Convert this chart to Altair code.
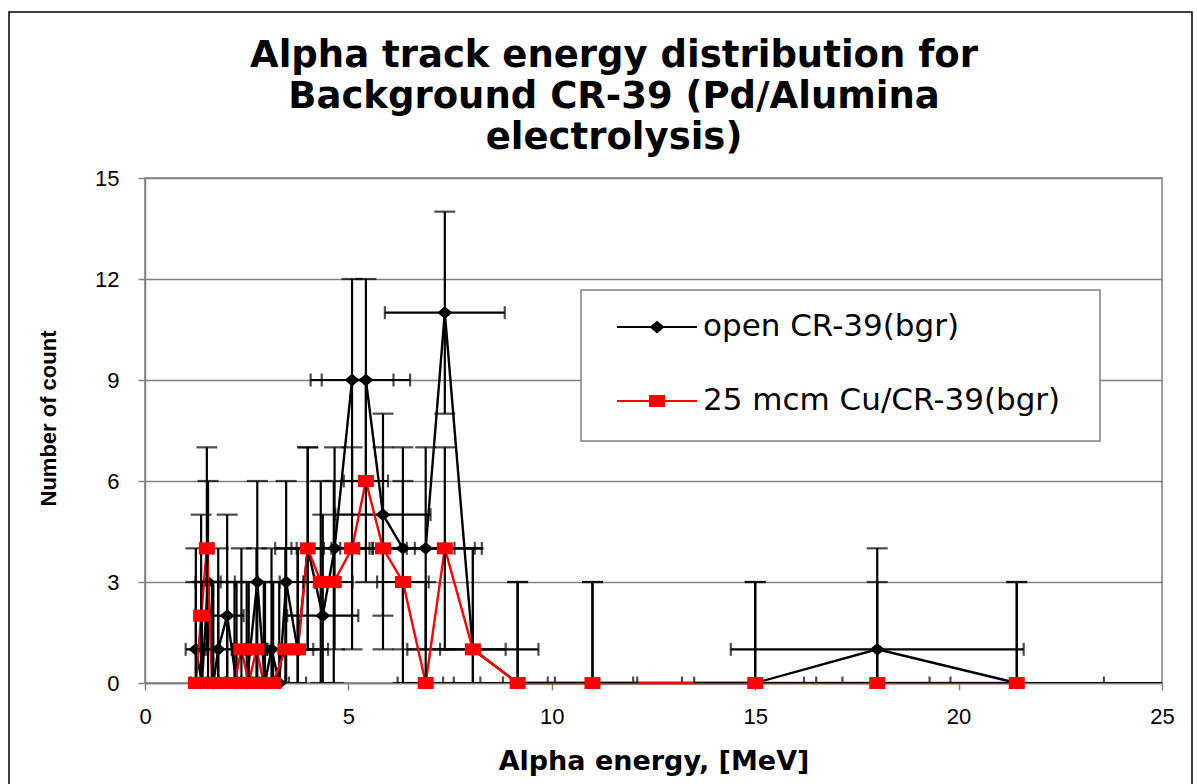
import altair as alt
import pandas as pd

# ---------------- text ----------------
TITLE = ["Alpha track energy distribution for", "Background CR-39 (Pd/Alumina", "electrolysis)"]
X_TITLE = "Alpha energy, [MeV]"
Y_TITLE = "Number of count"
SERIES = ["open CR-39(bgr)", "25 mcm Cu/CR-39(bgr)"]
X_TICKS = [0, 5, 10, 15, 20, 25]
Y_TICKS = [0, 3, 6, 9, 12, 15]

# ---------------- data ----------------
open_energy = [1.25, 1.40, 1.55, 1.68, 1.80, 2.02, 2.25, 2.50, 2.76, 2.95, 3.11, 3.30, 3.47, 3.75,
               4.00, 4.37, 4.66, 5.09, 5.43, 5.85, 6.34, 6.90, 7.37, 8.06, 9.16, 11.0, 15.0, 18.0, 21.43]
open_count = [1, 0, 3, 0, 1, 2, 0, 0, 3, 0, 1, 0, 3, 1,
              4, 2, 4, 9, 9, 5, 4, 4, 11, 1, 0, 0, 0, 1, 0]

cu_energy = [1.25, 1.38, 1.52, 1.65, 1.80, 2.02, 2.20, 2.37, 2.55, 2.74, 2.92, 3.15, 3.45, 3.76,
             4.00, 4.32, 4.64, 5.09, 5.43, 5.85, 6.34, 6.90, 7.37, 8.06, 9.16, 11.0, 15.0, 18.0, 21.43]
cu_count = [0, 2, 4, 0, 0, 0, 0, 1, 0, 1, 0, 0, 1, 1,
            4, 3, 3, 4, 6, 4, 3, 0, 4, 1, 0, 0, 0, 0, 0]

# error bars: +-3 counts, +-20 % (open) and +-10 % (Cu) in energy
COUNT_ERR = 3
OPEN_REL_ERR = 0.20
CU_REL_ERR = 0.10

W, H = 1017, 505
PAD_L, PAD_T = 145, 178

FONT = "Liberation Sans"
WIDE = "DejaVu Sans"
GRID = "#808080"


def frame(energy, count, rel):
    df = pd.DataFrame({"energy": energy, "count": count})
    df["ylo"] = df["count"] - COUNT_ERR
    df["yhi"] = df["count"] + COUNT_ERR
    df["xlo"] = df["energy"] * (1 - rel)
    df["xhi"] = df["energy"] * (1 + rel)
    df["order"] = range(len(df))
    return df


open_df = frame(open_energy, open_count, OPEN_REL_ERR)
cu_df = frame(cu_energy, cu_count, CU_REL_ERR)

x_scale = alt.Scale(domain=[0, 25], nice=False, zero=False)
y_scale = alt.Scale(domain=[0, 15], nice=False, zero=False)

x_axis = alt.Axis(values=X_TICKS, grid=False, tickSize=7, tickColor=GRID, tickWidth=1.5,
                  domainColor=GRID, domainWidth=1.5, labelFont=FONT, labelFontSize=22,
                  labelColor="black", labelPadding=16, labelFlush=False,
                  titleFont=WIDE, titleFontSize=27, titleFontWeight="bold", titleColor="black",
                  titleX=W / 2, titleY=78, titleBaseline="middle", titleAlign="center")
y_axis = alt.Axis(values=Y_TICKS, grid=True, gridColor=GRID, gridWidth=1.3, tickSize=7,
                  tickColor=GRID, tickWidth=1.5, domainColor=GRID, domainWidth=1.5,
                  labelFont=FONT, labelFontSize=22, labelColor="black", labelPadding=19,
                  titleFont=FONT, titleFontSize=22, titleFontWeight="bold", titleColor="black",
                  titleX=-97, titleY=240, titleBaseline="middle", titleAlign="center", titleAngle=-90)


def X(field):
    return alt.X(f"{field}:Q", scale=x_scale, axis=x_axis, title=X_TITLE)


def X2(field):
    return alt.X2(f"{field}:Q")


def Y(field):
    return alt.Y(f"{field}:Q", scale=y_scale, axis=y_axis, title=Y_TITLE)


def Y2(field):
    return alt.Y2(f"{field}:Q")


DIAMOND = "M-1,0L0,-0.85L1,0L0,0.85Z"
SQUARE = "M-1,-0.75L1,-0.75L1,0.75L-1,0.75Z"


def errorbars(df):
    base = alt.Chart(df)
    h = base.mark_rule(color="black", strokeWidth=2.2, clip=True).encode(x=X("xlo"), x2=X2("xhi"), y=Y("count"))
    hl = base.mark_tick(color="black", orient="vertical", size=13, thickness=2.2, clip=True).encode(x=X("xlo"), y=Y("count"))
    hr = base.mark_tick(color="black", orient="vertical", size=13, thickness=2.2, clip=True).encode(x=X("xhi"), y=Y("count"))
    v = base.mark_rule(color="black", strokeWidth=2.2, clip=True).encode(x=X("energy"), y=Y("ylo"), y2=Y2("yhi"))
    vt = base.mark_tick(color="black", orient="horizontal", size=21, thickness=2.2, clip=True).encode(x=X("energy"), y=Y("yhi"))
    vb = base.mark_tick(color="black", orient="horizontal", size=21, thickness=2.2, clip=True).encode(x=X("energy"), y=Y("ylo"))
    return [h, hl, hr, v, vt, vb]


def line(df, color):
    return alt.Chart(df).mark_line(color=color, strokeWidth=2.4).encode(
        x=X("energy"), y=Y("count"), order="order:Q")


def points(df, color, shape, size):
    return alt.Chart(df).mark_point(shape=shape, size=size, filled=True, color=color,
                                    opacity=1, strokeWidth=0).encode(x=X("energy"), y=Y("count"))


layers = []
layers += errorbars(open_df)
layers.append(line(open_df, "black"))
layers.append(points(open_df, "black", DIAMOND, 225))
layers.append(line(cu_df, "#ff0000"))
layers += errorbars(cu_df)
layers.append(points(cu_df, "#ff0000", SQUARE, 256))

# ---------------- legend (drawn as a boxed key) ----------------
one = pd.DataFrame({"k": [0]})
BOX_X0, BOX_X1, BOX_Y0, BOX_Y1 = 581 - PAD_L, 1100 - PAD_L, 290 - PAD_T, 441 - PAD_T
layers.append(alt.Chart(one).mark_rect(fill="white", stroke=GRID, strokeWidth=1.5).encode(
    x=alt.value(BOX_X0), x2=alt.value(BOX_X1), y=alt.value(BOX_Y0), y2=alt.value(BOX_Y1)))

legend_rows = [(SERIES[0], "black", DIAMOND, 225, 327 - PAD_T),
               (SERIES[1], "#ff0000", SQUARE, 256, 401 - PAD_T)]
for label, color, shape, size, ly in legend_rows:
    d = pd.DataFrame({"label": [label]})
    layers.append(alt.Chart(d).mark_rule(color=color, strokeWidth=2).encode(
        x=alt.value(617 - PAD_L), x2=alt.value(697 - PAD_L), y=alt.value(ly)))
    layers.append(alt.Chart(d).mark_point(shape=shape, size=size, filled=True, color=color,
                                          opacity=1, strokeWidth=0).encode(
        x=alt.value(657 - PAD_L), y=alt.value(ly)))
    layers.append(alt.Chart(d).mark_text(align="left", baseline="middle", font=WIDE, fontSize=31,
                                         color="black").encode(
        x=alt.value(703 - PAD_L), y=alt.value(ly), text="label:N"))

# chart title (three centred lines; first line centred at y=55)
title_df = pd.DataFrame({"title": ["\n".join(TITLE)]})
layers.append(alt.Chart(title_df).mark_text(align="center", baseline="middle", font=WIDE, fontSize=37,
                                            fontWeight="bold", color="black", lineBreak="\n",
                                            lineHeight=41).encode(
    x=alt.value(614 - PAD_L), y=alt.value(56 - PAD_T), text="title:N"))

# outer chart border
layers.append(alt.Chart(one).mark_rect(fill=None, stroke="black", strokeWidth=1.5).encode(
    x=alt.value(9 - PAD_L), x2=alt.value(1192 - PAD_L), y=alt.value(12 - PAD_T), y2=alt.value(800 - PAD_T)))

chart = alt.layer(*layers).properties(
    width=W, height=H,
    autosize=alt.AutoSizeParams(type="none"),
    padding={"left": PAD_L, "top": PAD_T, "right": 1197 - PAD_L - W, "bottom": 784 - PAD_T - H},
    background="white",
).configure_view(stroke=GRID, strokeWidth=1.5)

chart.save("out.html", embed_options={"renderer": "svg", "actions": False})
